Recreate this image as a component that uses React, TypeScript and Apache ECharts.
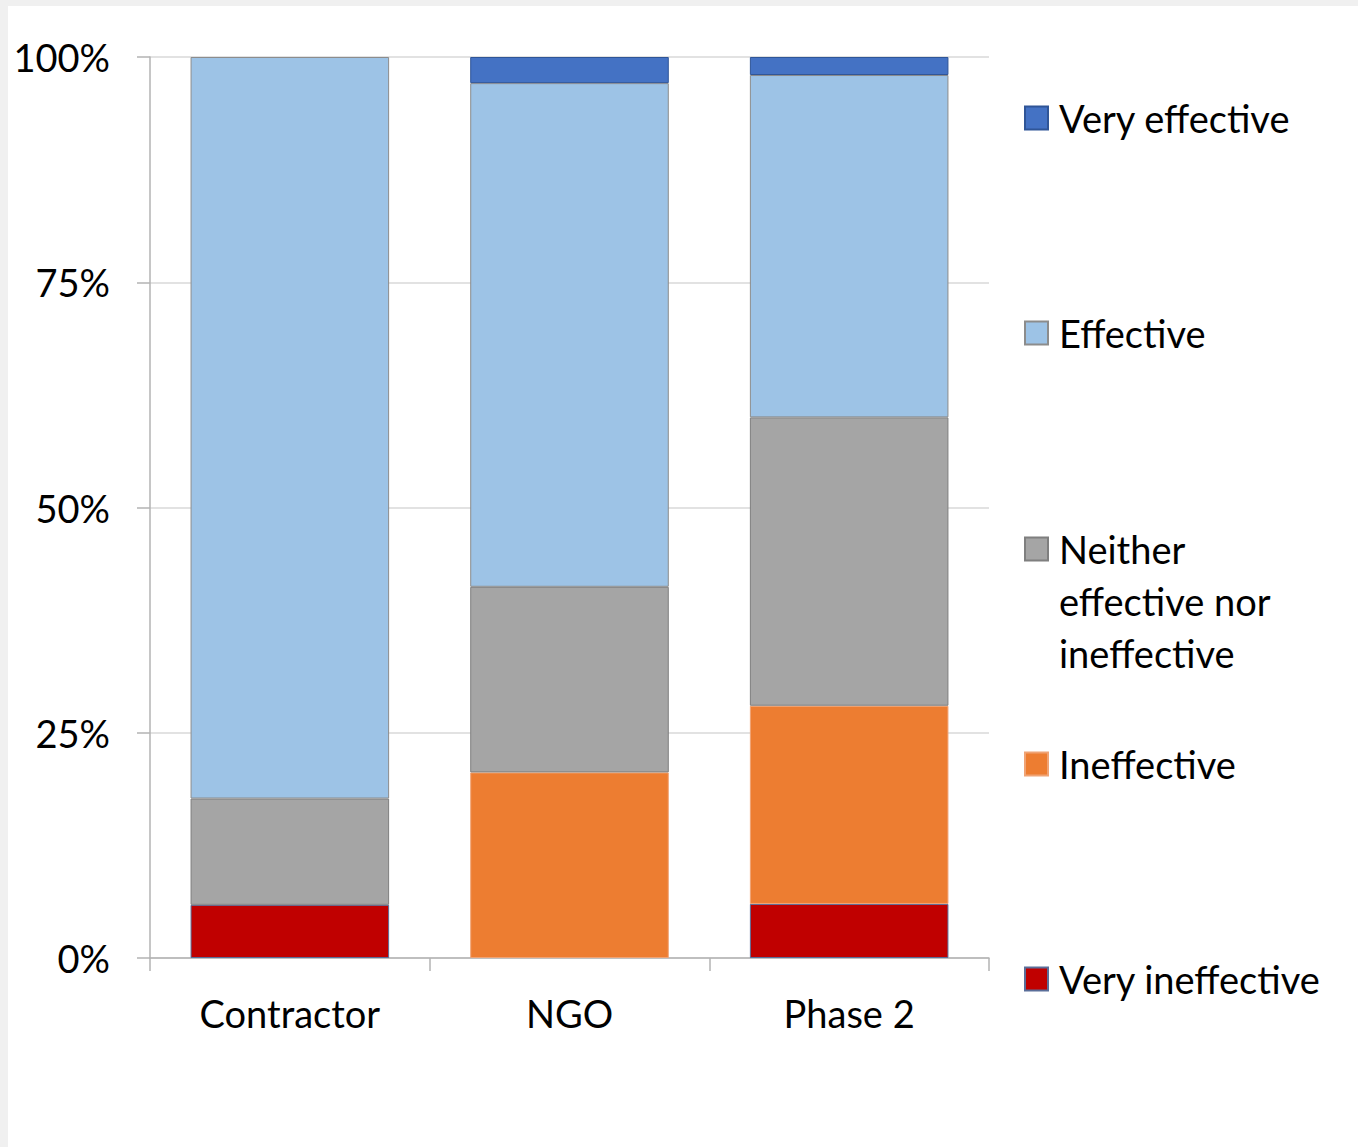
import React, { useEffect, useRef } from "react";
import * as echarts from "echarts";

const categories = ["Contractor", "NGO", "Phase 2"];
const yTicks = [0, 25, 50, 75, 100];

const veryIneffective = [5.9, 0, 6];
const ineffective = [0, 20.6, 22];
const neither = [11.8, 20.6, 32];
const effective = [82.3, 55.9, 38];
const veryEffective = [0, 2.9, 2];

const seriesDefs = [
  { name: "Very ineffective", data: veryIneffective, color: "#C00000", border: "#5a6e99" },
  { name: "Ineffective", data: ineffective, color: "#ED7D31", border: "#f0a374" },
  { name: "Neither effective nor ineffective", data: neither, color: "#A5A5A5", border: "#7f7f7f" },
  { name: "Effective", data: effective, color: "#9DC3E6", border: "#8c8c8c" },
  { name: "Very effective", data: veryEffective, color: "#4472C4", border: "#2f5597" },
];

const FONT = "Lato, 'Liberation Sans', sans-serif";
const FS = 38;

export default function App() {
  const ref = useRef<HTMLDivElement>(null);
  useEffect(() => {
    if (!ref.current) return;
    const chart = echarts.init(ref.current, null, { renderer: "svg" });
    const legendCenters: Record<string, number> = {
      "Very effective": 112,
      Effective: 327,
      "Neither effective nor ineffective": 543,
      Ineffective: 758,
      "Very ineffective": 973,
    };
    const legends = seriesDefs.map((s) => {
      const multi = s.name.startsWith("Neither");
      return {
        data: [s.name],
        orient: "vertical",
        left: 1016,
        top: multi ? legendCenters[s.name] - 130 : legendCenters[s.name] - 26,
        padding: 0,
        itemWidth: 23,
        itemHeight: 23,
        icon: "rect",
        selectedMode: false,
        formatter: multi ? () => " \n \nNeither\neffective nor\nineffective" : undefined,
        textStyle: {
          color: "#000",
          fontFamily: FONT,
          fontSize: FS,
          lineHeight: 52,
          padding: [0, 0, 0, 6],
        },
      };
    });
    chart.setOption({
      animation: false,
      backgroundColor: "#ffffff",
      textStyle: { fontFamily: FONT },
      legend: legends,
      grid: { left: 142, top: 51, width: 839, height: 901, containLabel: false },
      xAxis: {
        type: "category",
        data: categories,
        axisLine: { show: true, lineStyle: { color: "#b3b3b3", width: 1.5 } },
        axisTick: { show: true, length: 13, lineStyle: { color: "#b3b3b3", width: 1.5 } },
        axisLabel: { color: "#000", fontSize: FS, fontFamily: FONT, margin: 36 },
        splitLine: { show: false },
      },
      yAxis: {
        type: "value",
        min: yTicks[0],
        max: yTicks[yTicks.length - 1],
        interval: 25,
        axisLine: { show: true, lineStyle: { color: "#b3b3b3", width: 1.5 } },
        axisTick: { show: true, length: 13, lineStyle: { color: "#b3b3b3", width: 1.5 } },
        axisLabel: { color: "#000", fontSize: FS, fontFamily: FONT, margin: 40, formatter: "{value}%" },
        splitLine: { show: true, lineStyle: { color: "#d9d9d9", width: 1.5 } },
      },
      series: seriesDefs.map((s) => ({
        name: s.name,
        type: "bar",
        stack: "total",
        barWidth: "71%",
        data: s.data.map((v) => (v === 0 ? null : v)),
        itemStyle: { color: s.color, borderColor: s.border, borderWidth: 1 },
      })),
    });
    return () => chart.dispose();
  }, []);
  return (
    <div style={{ position: "absolute", left: 0, top: 0, width: 1358, height: 1147, background: "#f0f0f0" }}>
      <div ref={ref} style={{ position: "absolute", left: 8, top: 6, width: 1350, height: 1141, background: "#fff" }} />
    </div>
  );
}
